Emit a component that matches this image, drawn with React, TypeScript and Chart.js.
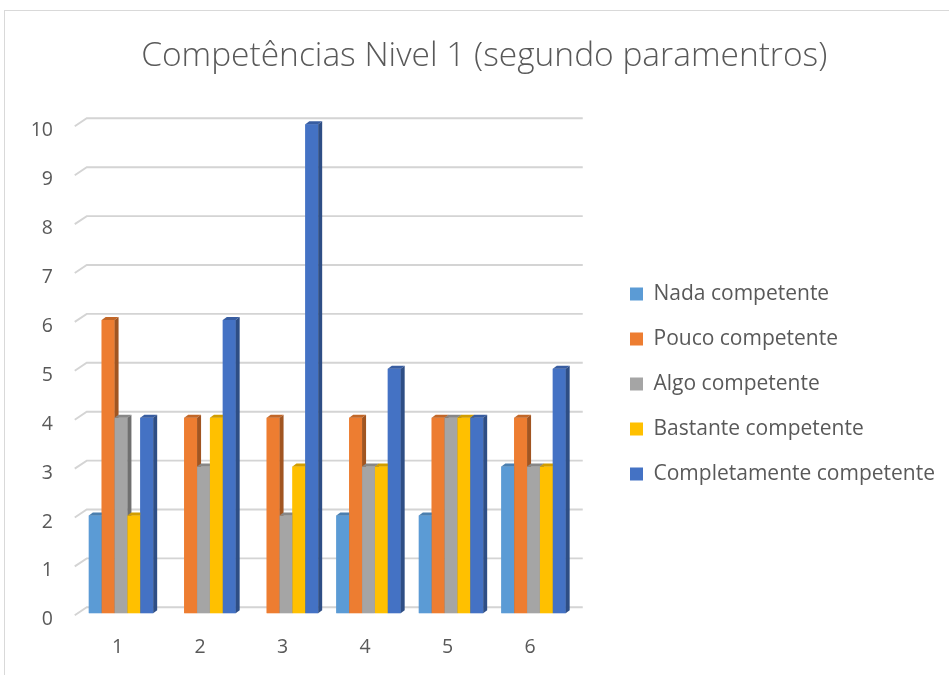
import React, { useEffect, useRef } from "react";
import { Chart, registerables } from "chart.js";

Chart.register(...registerables);

// ---- data ----
const categories = ["1", "2", "3", "4", "5", "6"];
const seriesNames = [
  "Nada competente",
  "Pouco competente",
  "Algo competente",
  "Bastante competente",
  "Completamente competente",
];
const nada = [2, 0, 0, 2, 2, 3];
const pouco = [6, 4, 4, 4, 4, 4];
const algo = [4, 3, 2, 3, 4, 3];
const bastante = [2, 4, 3, 3, 4, 3];
const completamente = [4, 6, 10, 5, 4, 5];
const yMin = 0;
const yMax = 10;
const yStep = 1;
const chartTitle = "Competências Nivel 1 (segundo paramentros)";

// ---- style ----
const FONT = "'Open Sans', 'Noto Sans', sans-serif";
const TEXT = "#595959";
const colors = ["#5B9BD5", "#ED7D31", "#A5A5A5", "#FFC000", "#4472C4"];
const W = 949;
const H = 675;
const AREA_LEFT = 79.75;
const AREA_RIGHT = 574.75;
const AREA_BOTTOM = 613.3;
const LEGEND_W = W - AREA_RIGHT;
const LEGEND_LEFT = 606;
const LEGEND_DY = 46.6;
const TITLE_CX = 484.2;
const DX = 4;
const DY = 3;

function shade(hex: string, f: number) {
  const n = parseInt(hex.slice(1), 16);
  const r = Math.round(((n >> 16) & 255) * f);
  const g = Math.round(((n >> 8) & 255) * f);
  const b = Math.round((n & 255) * f);
  return `rgb(${r},${g},${b})`;
}
const sideColors = colors.map((c) => shade(c, 0.68));
const topColors = colors.map((c) => shade(c, 0.82));

const grid3d = {
  id: "grid3d",
  beforeDatasetsDraw(chart: any) {
    const { ctx, chartArea, scales } = chart;
    const y = scales.y;
    ctx.save();
    ctx.strokeStyle = "#d4d4d4";
    ctx.lineWidth = 1.9;
    y.ticks.forEach((t: any) => {
      const G = y.getPixelForValue(t.value) - 6;
      ctx.beginPath();
      ctx.moveTo(chartArea.left - 5, G + 8);
      ctx.lineTo(chartArea.left + 7, G);
      ctx.lineTo(chartArea.right + 8, G);
      ctx.stroke();
    });
    ctx.restore();
  },
};

const bars3d = {
  id: "bars3d",
  afterDatasetsDraw(chart: any) {
    const ctx = chart.ctx;
    const n = chart.data.labels.length;
    for (let j = 0; j < n; j++) {
      chart.data.datasets.forEach((ds: any, i: number) => {
        const meta = chart.getDatasetMeta(i);
        const bar = meta.data[j];
        const v = ds.data[j];
        if (!bar || !v) return;
        const { x, y, base, width } = bar.getProps(["x", "y", "base", "width"], true);
        bar.draw(ctx);
        const l = x - width / 2;
        const r = x + width / 2;
        ctx.save();
        ctx.fillStyle = topColors[i];
        ctx.beginPath();
        ctx.moveTo(l, y);
        ctx.lineTo(l + DX, y - DY);
        ctx.lineTo(r + DX, y - DY);
        ctx.lineTo(r, y);
        ctx.closePath();
        ctx.fill();
        ctx.fillStyle = sideColors[i];
        ctx.beginPath();
        ctx.moveTo(r, y);
        ctx.lineTo(r + DX, y - DY);
        ctx.lineTo(r + DX, base - DY);
        ctx.lineTo(r, base);
        ctx.closePath();
        ctx.fill();
        ctx.restore();
      });
    }
  },
};

const boxPlace = {
  id: "boxPlace",
  beforeLayout(chart: any) {
    const lg = chart.legend;
    if (lg && !lg.__fixed) {
      const orig = lg.fit.bind(lg);
      lg.fit = function () {
        orig();
        this.width = LEGEND_W;
      };
      lg.__fixed = true;
    }
  },
  afterLayout(chart: any) {
    const lg = chart.legend;
    if (lg) {
      const dx = LEGEND_LEFT - lg.left;
      lg.left += dx;
      lg.right += dx;
      lg.top += LEGEND_DY;
      lg.bottom += LEGEND_DY;
    }
    const tt = chart.titleBlock;
    if (tt) {
      tt.left = TITLE_CX - W / 2;
      tt.right = TITLE_CX + W / 2;
      tt.width = W;
    }
  },
};

export default function App() {
  const ref = useRef<HTMLCanvasElement>(null);

  useEffect(() => {
    if (!ref.current) return;
    const series = [nada, pouco, algo, bastante, completamente];
    const chart = new Chart(ref.current, {
      type: "bar",
      data: {
        labels: categories,
        datasets: series.map((d, i) => ({
          label: seriesNames[i],
          data: d,
          backgroundColor: colors[i],
          borderWidth: 0,
          categoryPercentage: 0.78,
          barPercentage: 1,
        })),
      },
      options: {
        animation: false,
        responsive: false,
        devicePixelRatio: 1,
        layout: { padding: 0 },
        plugins: {
          title: {
            display: true,
            text: chartTitle,
            color: TEXT,
            font: { family: FONT, size: 33.5, weight: "300", lineHeight: 1.2 },
            padding: { top: 36, bottom: 48.1 },
          },
          legend: {
            display: true,
            position: "right",
            align: "center",
            labels: {
              color: TEXT,
              font: { family: FONT, size: 21, lineHeight: 1.2 },
              boxWidth: 13,
              boxHeight: 13,
              padding: 24,
            },
          },
          tooltip: { enabled: false },
        },
        scales: {
          x: {
            grid: { display: false, drawTicks: false },
            border: { display: false },
            ticks: {
              color: TEXT,
              font: { family: FONT, size: 19.5, lineHeight: 1.2 },
              padding: 22,
              labelOffset: -3.5,
            },
            afterFit(s: any) {
              s.height = H - AREA_BOTTOM;
            },
          },
          y: {
            min: yMin,
            max: yMax,
            grid: { display: false, drawTicks: false },
            border: { display: false },
            ticks: {
              stepSize: yStep,
              color: TEXT,
              font: { family: FONT, size: 19.5, lineHeight: 1.2 },
              padding: AREA_LEFT - 53,
              labelOffset: 6.5,
            },
            afterFit(s: any) {
              s.width = AREA_LEFT;
            },
          },
        },
      },
      plugins: [grid3d, bars3d, boxPlace],
    } as any);
    return () => chart.destroy();
  }, []);

  return (
    <div style={{ position: "fixed", left: 0, top: 0, width: W, height: H, background: "#fff" }}>
      <div
        style={{
          position: "absolute",
          left: 4,
          top: 10,
          width: W,
          height: H,
          borderLeft: "1px solid #d9d9d9",
          borderTop: "1px solid #d9d9d9",
        }}
      />
      <canvas
        ref={ref}
        width={W}
        height={H}
        style={{ position: "absolute", left: 0, top: 0, width: W, height: H }}
      />
    </div>
  );
}
